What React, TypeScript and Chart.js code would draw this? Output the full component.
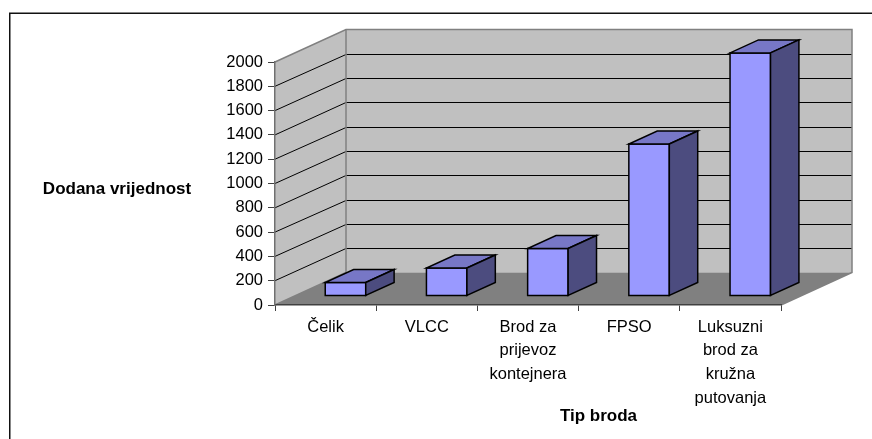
import React, { useEffect, useRef } from 'react';
import { Chart, registerables } from 'chart.js';

Chart.register(...registerables);

// ---- data ----
const categories: string[][] = [
  ['Čelik'],
  ['VLCC'],
  ['Brod za', 'prijevoz', 'kontejnera'],
  ['FPSO'],
  ['Luksuzni', 'brod za', 'kružna', 'putovanja'],
];
const values: number[] = [110, 230, 390, 1250, 2000];
const yMin = 0;
const yMax = 2000;
const yStep = 200;
const yTitle = 'Dodana vrijednost';
const xTitle = 'Tip broda';

// ---- 3D look ----
const DX = 71;
const DY = -32.5;
const F1 = 0.28;
const F2 = 0.68;
const FONT = '"Liberation Sans", Arial, sans-serif';

function poly(ctx: CanvasRenderingContext2D, pts: number[][]) {
  ctx.beginPath();
  ctx.moveTo(pts[0][0], pts[0][1]);
  for (let i = 1; i < pts.length; i++) ctx.lineTo(pts[i][0], pts[i][1]);
  ctx.closePath();
}

const wallsPlugin = {
  id: 'walls3d',
  beforeDraw(chart: any) {
    const ctx: CanvasRenderingContext2D = chart.ctx;
    const xs = chart.scales.x;
    const ys = chart.scales.y;
    const L = xs.left;
    const R = xs.right;
    const y0 = ys.getPixelForValue(yMin);
    const yT = ys.getPixelForValue(yMax);
    ctx.save();
    // outer border
    ctx.strokeStyle = '#111';
    ctx.lineWidth = 1.5;
    ctx.strokeRect(9.75, 13.25, 1000, 1000);
    // left wall
    ctx.fillStyle = '#C0C0C0';
    poly(ctx, [[L, yT], [L + DX, yT + DY], [L + DX, y0 + DY], [L, y0]]);
    ctx.fill();
    // back wall
    poly(ctx, [[L + DX, yT + DY], [R + DX, yT + DY], [R + DX, y0 + DY], [L + DX, y0 + DY]]);
    ctx.fill();
    // floor
    ctx.fillStyle = '#808080';
    poly(ctx, [[L, y0], [R, y0], [R + DX, y0 + DY], [L + DX, y0 + DY]]);
    ctx.fill();
    // gridlines
    ctx.strokeStyle = '#000';
    ctx.lineWidth = 1;
    ys.ticks.forEach((t: any) => {
      if (t.value <= yMin || t.value >= yMax) return;
      const py = ys.getPixelForValue(t.value);
      const by = Math.round(py + DY) + 0.5;
      ctx.beginPath();
      ctx.moveTo(L, py);
      ctx.lineTo(L + DX, by);
      ctx.lineTo(R + DX, by);
      ctx.stroke();
    });
    // edges
    ctx.strokeStyle = '#808080';
    ctx.lineWidth = 1.5;
    ctx.beginPath();
    ctx.moveTo(L, yT);
    ctx.lineTo(L + DX, yT + DY);
    ctx.lineTo(R + DX, yT + DY);
    ctx.lineTo(R + DX, y0 + DY);
    ctx.lineTo(R, y0);
    ctx.moveTo(L + DX, yT + DY);
    ctx.lineTo(L + DX, y0 + DY);
    ctx.lineTo(L, y0);
    ctx.stroke();
    ctx.restore();
  },
  afterDatasetsDraw(chart: any) {
    const ctx: CanvasRenderingContext2D = chart.ctx;
    const meta = chart.getDatasetMeta(0);
    const ox = F1 * DX;
    const oy = F1 * DY;
    const dx = (F2 - F1) * DX;
    const dy = (F2 - F1) * DY;
    ctx.save();
    ctx.strokeStyle = '#000';
    ctx.lineWidth = 1.5;
    ctx.lineJoin = 'miter';
    meta.data.forEach((el: any) => {
      const p = el.getProps(['x', 'y', 'base', 'width'], true);
      const x0 = p.x - p.width / 2 + ox;
      const x1 = p.x + p.width / 2 + ox;
      const yt = p.y + oy;
      const yb = p.base + oy;
      // front
      ctx.fillStyle = '#9999FF';
      poly(ctx, [[x0, yt], [x1, yt], [x1, yb], [x0, yb]]);
      ctx.fill();
      ctx.stroke();
      // top
      ctx.fillStyle = '#7777C6';
      poly(ctx, [[x0, yt], [x1, yt], [x1 + dx, yt + dy], [x0 + dx, yt + dy]]);
      ctx.fill();
      ctx.stroke();
      // side
      ctx.fillStyle = '#4C4C7F';
      poly(ctx, [[x1, yt], [x1 + dx, yt + dy], [x1 + dx, yb + dy], [x1, yb]]);
      ctx.fill();
      ctx.stroke();
    });
    ctx.restore();
  },
  afterDraw(chart: any) {
    const ctx: CanvasRenderingContext2D = chart.ctx;
    const ys = chart.scales.y;
    const xs = chart.scales.x;
    ctx.save();
    ctx.fillStyle = '#000';
    ctx.font = `bold 17px ${FONT}`;
    ctx.textAlign = 'center';
    ctx.textBaseline = 'middle';
    const yc = (ys.top + ys.bottom) / 2 + 6;
    ctx.fillText(yTitle, 117, yc);
    const xc = (xs.left + xs.right + DX) / 2 + 35;
    ctx.fillText(xTitle, xc, 416);
    ctx.restore();
  },
};

export default function App() {
  const ref = useRef<HTMLCanvasElement | null>(null);
  useEffect(() => {
    if (!ref.current) return;
    const chart = new Chart(ref.current, {
      type: 'bar',
      data: {
        labels: categories,
        datasets: [
          {
            data: values,
            backgroundColor: 'rgba(0,0,0,0)',
            borderWidth: 0,
            categoryPercentage: 1,
            barPercentage: 0.4,
          },
        ],
      },
      options: {
        responsive: false,
        animation: false,
        events: [],
        layout: { padding: { top: 62, right: 91, left: 0, bottom: 0 } },
        plugins: { legend: { display: false }, tooltip: { enabled: false }, title: { display: false } },
        scales: {
          x: {
            afterFit: (s: any) => {
              s.height = 134;
            },
            grid: { drawOnChartArea: false, drawTicks: true, tickLength: 6, color: '#404040', offset: true },
            border: { display: true, color: '#404040', width: 1.5 },
            ticks: {
              color: '#000',
              font: { family: FONT, size: 16.5, lineHeight: 1.45 },
              padding: 4,
              autoSkip: false,
              maxRotation: 0,
              minRotation: 0,
            },
          },
          y: {
            min: yMin,
            max: yMax,
            afterFit: (s: any) => {
              s.width = 275;
            },
            grid: { drawOnChartArea: false, drawTicks: true, tickLength: 7, color: '#404040' },
            border: { display: true, color: '#707070', width: 1.5 },
            ticks: {
              stepSize: yStep,
              color: '#000',
              font: { family: FONT, size: 16.5 },
              padding: 5,
              callback: (v: any) => String(v),
            },
          },
        },
      },
      plugins: [wallsPlugin],
    });
    return () => chart.destroy();
  }, []);
  return (
    <div style={{ position: 'fixed', left: 0, top: 0, width: 872, height: 439, overflow: 'hidden', background: '#fff' }}>
      <canvas ref={ref} width={872} height={439} style={{ display: 'block', width: 872, height: 439 }} />
    </div>
  );
}
